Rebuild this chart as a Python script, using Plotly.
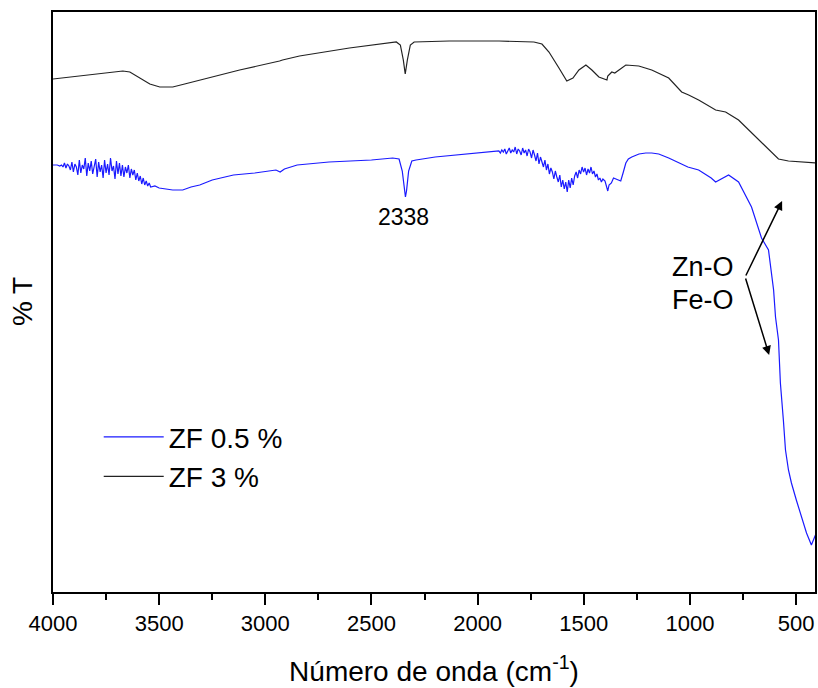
import plotly.graph_objects as go

# ZF 3 % (black)
wn_zf3 = [4000, 3873, 3732, 3671, 3638, 3591, 3544, 3497, 3436, 3380, 3309, 3121, 2933, 2919, 2839,
          2604, 2383, 2364, 2350, 2341, 2331, 2317, 2299, 2134, 1899, 1735, 1697, 1664, 1617, 1580,
          1551, 1523, 1490, 1462, 1429, 1401, 1391, 1387, 1368, 1354, 1335, 1302, 1241, 1180, 1100,
          1039, 1006, 959, 879, 832, 771, 724, 644, 583, 536, 489, 409]
t_zf3 = [512, 515, 518, 520, 519, 513, 507, 504, 504, 507, 511, 521, 530, 531, 535,
         543, 549, 546, 531, 517, 531, 546, 549, 550, 550, 549, 547, 539, 523, 510,
         513, 521, 526, 521, 514, 512, 511, 515, 519, 518, 521, 526, 525, 521, 513,
         499, 496, 491, 481, 479, 471, 461, 444, 432, 430, 429, 428]

# ZF 0.5 % (blue)
wn_zf05 = [4000, 3980, 3968,
           3960, 3953, 3946, 3939, 3932, 3925, 3918, 3911, 3904, 3897, 3890, 3883, 3876, 3869, 3862,
           3855, 3848, 3841, 3834, 3827, 3820, 3813, 3806, 3799, 3792, 3785, 3778, 3771, 3764, 3757,
           3750, 3743, 3736, 3729, 3722, 3715, 3708, 3701, 3694, 3687, 3680, 3673, 3666, 3659, 3652,
           3645, 3638, 3631, 3624, 3617, 3610, 3603, 3596, 3589, 3582, 3575, 3568, 3561, 3554, 3547,
           3540, 3520, 3500, 3470, 3436, 3389, 3350, 3309, 3250, 3150, 3050, 2950, 2930, 2910, 2850,
           2700, 2500, 2400, 2370, 2355, 2345, 2340, 2335, 2325, 2310, 2290, 2200, 2100, 2000, 1950,
           1900, 1893, 1886, 1879, 1872, 1865, 1858, 1851, 1844, 1837, 1830, 1823, 1816, 1809, 1802,
           1795, 1788, 1781, 1774, 1767, 1760, 1753, 1746, 1739, 1732, 1725, 1718, 1711, 1704, 1697,
           1690, 1683, 1676, 1669, 1662, 1655, 1648, 1641, 1634, 1627, 1620, 1613, 1606, 1599, 1592,
           1585, 1578, 1571, 1564, 1557, 1550, 1543, 1536, 1529, 1522, 1515, 1508, 1501, 1494, 1487,
           1480, 1473, 1466, 1459, 1452, 1445, 1438, 1431, 1424, 1417, 1410, 1400, 1393, 1387, 1381,
           1370, 1360, 1350, 1340, 1326, 1315, 1302, 1290, 1274, 1240, 1208, 1180, 1147, 1100, 1053,
           1010, 959, 900, 879, 818, 771, 710, 663, 630, 606, 597, 583, 574, 560, 550,
           536, 522, 499, 475, 451, 428, 418, 405]
t_zf05 = [426, 426, 425,
          426, 424, 428, 423, 427, 425, 421, 429, 419, 427, 424, 416, 431, 418, 426,
          422, 433, 415, 428, 420, 430, 417, 425, 432, 414, 429, 419, 426, 413, 431,
          418, 427, 416, 433, 420, 425, 412, 430, 417, 428, 415, 426, 414, 424, 418,
          426, 413, 422, 416, 421, 411, 418, 410, 415, 407, 413, 406, 410, 405, 408,
          404, 405, 403, 402, 401, 401, 404, 406, 411, 416, 418, 421, 419, 422, 426,
          429, 431, 433, 432, 420, 400, 394, 400, 420, 430, 431, 434, 436, 438, 439,
          440, 438, 441, 439, 442, 437, 440, 443, 438, 441, 439, 444, 437, 442, 440,
          436, 443, 438, 441, 435, 442, 439, 433, 441, 436, 430, 438, 427, 434, 429,
          424, 431, 421, 427, 417, 423, 419, 412, 420, 414, 409, 416, 404, 411, 402,
          409, 399, 411, 403, 413, 406, 415, 419, 413, 421, 417, 424, 419, 423, 416,
          422, 418, 424, 417, 420, 414, 417, 411, 413, 409, 412, 410, 404, 400, 406,
          408, 413, 412, 411, 410, 418, 428, 432, 434, 437, 438, 438, 437, 433, 428,
          424, 421, 413, 409, 416, 409, 384, 353, 341, 301, 274, 251, 208, 171, 141,
          121, 108, 91, 74, 58, 46, 51, 58]

FONT = "Liberation Sans, Arial, sans-serif"

fig = go.Figure()
fig.add_trace(go.Scatter(x=wn_zf05, y=t_zf05, mode="lines", name="ZF 0.5 %",
                         line=dict(color="#1a1aff", width=1.2)))
fig.add_trace(go.Scatter(x=wn_zf3, y=t_zf3, mode="lines", name="ZF 3 %",
                         line=dict(color="#222222", width=1.2)))

fig.add_annotation(x=2351, y=374, text="2338", showarrow=False,
                   font=dict(size=23, color="black", family=FONT))
fig.add_annotation(x=782, y=324, xref="x", yref="y", text="Zn-O", showarrow=False,
                   xanchor="right", font=dict(size=27, color="black", family=FONT))
fig.add_annotation(x=782, y=291, xref="x", yref="y", text="Fe-O", showarrow=False,
                   xanchor="right", font=dict(size=27, color="black", family=FONT))
fig.add_annotation(x=566, y=390, ax=740, ay=314, xref="x", yref="y", axref="x", ayref="y",
                   text="", showarrow=True, arrowhead=2, arrowsize=1.2, arrowwidth=1.5, arrowcolor="black")
fig.add_annotation(x=627, y=236, ax=740, ay=314, xref="x", yref="y", axref="x", ayref="y",
                   text="", showarrow=True, arrowhead=2, arrowsize=1.2, arrowwidth=1.5, arrowcolor="black")
fig.add_annotation(x=-0.0406, y=0.5, xref="paper", yref="paper", text="% T", textangle=-90,
                   xanchor="center", yanchor="middle",
                   showarrow=False, font=dict(size=28, color="black", family=FONT))

fig.update_layout(
    width=818, height=688,
    margin=dict(l=53, r=1, t=12, b=96),
    paper_bgcolor="white", plot_bgcolor="white",
    showlegend=True,
    legend=dict(x=0.06, y=0.31, xanchor="left", yanchor="top", bgcolor="rgba(0,0,0,0)",
                font=dict(size=28, color="black", family=FONT),
                itemwidth=60, tracegroupgap=0),
    xaxis=dict(range=[4000, 411], tick0=0, dtick=500, ticks="outside", ticklen=11, tickwidth=1.5,
               tickcolor="black", showline=True, linecolor="black", linewidth=1.5, mirror=True,
               showgrid=False, zeroline=False,
               tickfont=dict(size=22, color="black", family=FONT),
               minor=dict(ticks="outside", dtick=250, ticklen=6, tickwidth=1.5, tickcolor="black",
                          showgrid=False),
               title=dict(text="Número de onda (cm<sup>-1</sup>)", standoff=26,
                          font=dict(size=28, color="black", family=FONT))),
    yaxis=dict(range=[-1, 579], showticklabels=False, ticks="", showline=True, linecolor="black",
               linewidth=1.5, mirror=True, showgrid=False, zeroline=False),
)

fig.write_html("out.html")
